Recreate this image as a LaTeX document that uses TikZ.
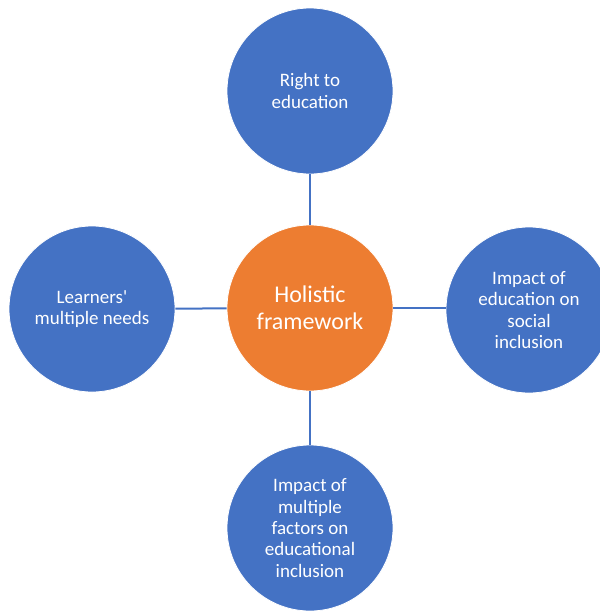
\documentclass[tikz,border=0pt]{standalone}
\usepackage{fontspec}
\setmainfont{Carlito}
\definecolor{hubblue}{HTML}{4472C4}
\definecolor{huborange}{HTML}{ED7D31}
\tikzset{
  bubble/.style={circle, fill=hubblue, draw=white, line width=0.8pt,
    minimum size=166pt, inner sep=0pt, text=white, align=center,
    font=\fontsize{19}{21.3}\selectfont},
  hub/.style={bubble, fill=huborange, font=\fontsize{24}{26.5}\selectfont},
  link/.style={draw=hubblue, line width=2pt}
}
\begin{document}
\begin{tikzpicture}[x=1pt,y=-1pt]
  \useasboundingbox (0,0) rectangle (600,611);
  \clip (0,0) rectangle (600,611);
  \node[hub] (hub) at (310,308) {Holistic\\framework};
  \node[bubble] (top) at (310,91) {Right to\\education};
  \node[bubble] (left) at (92,309) {Learners\textquotesingle\\multiple needs};
  \node[bubble] (right) at (529,310) {Impact of\\education on\\social\\inclusion};
  \node[bubble] (bottom) at (310,528) {Impact of\\multiple\\factors on\\educational\\inclusion};
  \draw[link] (hub) -- (top);
  \draw[link] (hub) -- (left);
  \draw[link] (hub.east) -- (right.west |- hub.east);
  \draw[link] (hub) -- (bottom);
\end{tikzpicture}
\end{document}
